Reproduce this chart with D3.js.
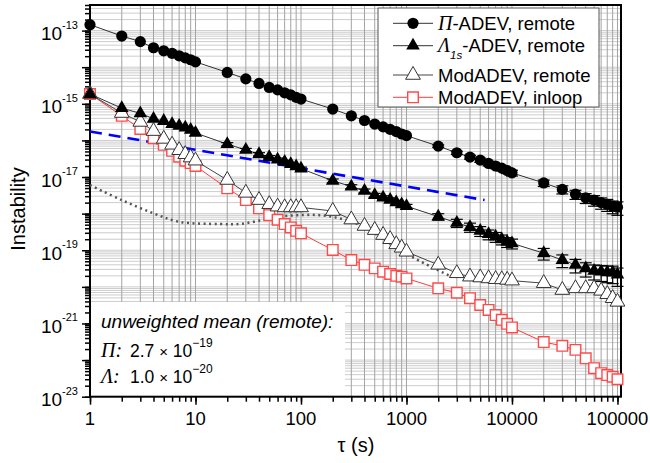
<!DOCTYPE html>
<html>
<head>
<meta charset="utf-8">
<script src="https://d3js.org/d3.v7.min.js"></script>
<style>
  body { margin: 0; background: #fff; }
  text { font-family: "Liberation Sans", Arial, sans-serif; }
</style>
</head>
<body>
<div id="chart"></div>
<script>
// averaging times (s)
const tau = [1,2,3,4,5,6,7,8,9,10,
  20,30,40,50,60,70,80,90,100,
  200,300,400,500,600,700,800,900,1000,
  2000,3000,4000,5000,6000,7000,8000,9000,10000,
  20000,30000,40000,50000,60000,70000,80000,90000,100000];

// Pi-ADEV, remote
const piAdev = [1.45e-13,7.1e-14,5.0e-14,3.4e-14,2.8e-14,2.4e-14,2.05e-14,1.8e-14,1.6e-14,1.4e-14,
  7.2e-15,4.8e-15,3.6e-15,2.8e-15,2.4e-15,2.0e-15,1.75e-15,1.5e-15,1.35e-15,
  7.2e-16,4.7e-16,3.5e-16,2.8e-16,2.35e-16,2.0e-16,1.75e-16,1.5e-16,1.35e-16,
  7.0e-17,4.6e-17,3.5e-17,2.9e-17,2.35e-17,2.0e-17,1.75e-17,1.5e-17,1.3e-17,
  6.9e-18,4.6e-18,3.4e-18,2.7e-18,2.35e-18,2.0e-18,1.8e-18,1.6e-18,1.5e-18];
const piErr = [0,0,0,0,0,0,0,0,0,0,
  0,0,0,0,0,0,0,0,0,
  0,0,0,0,0,0,0,0,0,
  0.08,0.1,0.12,0.13,0.14,0.15,0.16,0.17,0.18,
  0.2,0.25,0.28,0.3,0.32,0.34,0.36,0.38,0.4];

// Lambda_1s-ADEV, remote
const lamAdev = [1.85e-15,7.6e-16,5.5e-16,3.9e-16,3.4e-16,2.8e-16,2.5e-16,2.25e-16,1.95e-16,1.6e-16,
  7.9e-17,5.5e-17,4.2e-17,3.5e-17,3.0e-17,2.6e-17,2.25e-17,1.95e-17,1.7e-17,
  7.9e-18,5.5e-18,4.2e-18,3.2e-18,2.75e-18,2.4e-18,2.05e-18,1.8e-18,1.6e-18,
  8.3e-19,5.6e-19,4.3e-19,3.4e-19,2.75e-19,2.35e-19,2.0e-19,1.7e-19,1.55e-19,
  8.3e-20,5.4e-20,4.0e-20,3.2e-20,2.75e-20,2.6e-20,2.5e-20,2.45e-20,2.15e-20];
const lamErr = [0,0,0,0,0,0,0,0,0,0,
  0.1,0.1,0.1,0.1,0.1,0.1,0.1,0.1,0.1,
  0.12,0.12,0.12,0.12,0.12,0.12,0.12,0.12,0.12,
  0.2,0.25,0.28,0.3,0.3,0.3,0.3,0.3,0.3,
  0.35,0.38,0.4,0.42,0.44,0.46,0.48,0.5,0.52];

// ModADEV, remote
const modRemote = [1.85e-15,5.6e-16,3.2e-16,1.8e-16,1.1e-16,7.6e-17,5.4e-17,4.2e-17,3.4e-17,2.8e-17,
  8.3e-18,3.7e-18,2.35e-18,1.8e-18,1.55e-18,1.48e-18,1.48e-18,1.48e-18,1.48e-18,
  1.18e-18,6.9e-19,4.6e-19,3.55e-19,2.6e-19,2.0e-19,1.45e-19,1.17e-19,9.1e-20,
  4.0e-20,2.35e-20,1.9e-20,1.8e-20,1.7e-20,1.62e-20,1.6e-20,1.55e-20,1.48e-20,
  1.26e-20,8.2e-21,9.1e-21,9.1e-21,9.1e-21,7.8e-21,6.3e-21,4.9e-21,3.9e-21];

// ModADEV, inloop
const modInloop = [1.85e-15,4.7e-16,2.05e-16,1.15e-16,7.6e-17,5.2e-17,3.6e-17,2.8e-17,2.4e-17,2.0e-17,
  4.9e-18,2.35e-18,1.4e-18,9.1e-19,6.8e-19,5.2e-19,4.2e-19,3.4e-19,2.9e-19,
  1.02e-19,5.4e-20,4.0e-20,3.2e-20,2.6e-20,2.25e-20,2.0e-20,1.9e-20,1.7e-20,
  9.1e-21,6.9e-21,4.9e-21,3.2e-21,2.35e-21,1.7e-21,1.26e-21,9.8e-22,7.8e-22,
  3.1e-22,2.45e-22,1.9e-22,1.12e-22,6.0e-23,4.4e-23,3.9e-23,3.5e-23,3.0e-23];

// dotted grey curve
const dotTau = [1,2,4,7,17,26,41,63,97,150,233,362,560,860,1330,2700];
const dotVal = [6.0e-18,2.35e-18,1.02e-18,6.0e-19,5.2e-19,5.2e-19,6.5e-19,8.3e-19,9.1e-19,9.1e-19,
  7.4e-19,4.9e-19,2.35e-19,1.02e-19,5.1e-20,1.86e-20];

// blue dashed line
const blueTau = [1, 5500];
const blueVal = [1.75e-16, 2.35e-18];

const xLabels = [1, 10, 100, 1000, 10000, 100000];
const yLabelExp = [-13, -15, -17, -19, -21, -23];

const width = 650, height = 463;
const svg = d3.select("#chart").append("svg")
  .attr("width", width).attr("height", height)
  .style("background", "#fff");

const x = d3.scaleLog().domain([1, 1.08e5]).range([90, 621]);
const y = d3.scaleLog().domain([1e-23, 5e-13]).range([396.7, 5]);

// tick positions
let xMinor = [], yMinor = [], yMajor = [];
for (let d = 0; d <= 4; d++) for (let k = 1; k <= 9; k++) xMinor.push(k * Math.pow(10, d));
xMinor.push(1e5);
for (let d = -23; d <= -13; d++) {
  yMajor.push(Math.pow(10, d));
  for (let k = 1; k <= 9; k++) { const v = k * Math.pow(10, d); if (v <= 5e-13) yMinor.push(v); }
}

// grid
svg.append("g").selectAll("line").data(yMinor).join("line")
  .attr("x1", 90).attr("x2", 621)
  .attr("y1", d => y(d)).attr("y2", d => y(d))
  .attr("stroke", "#cdcdcd").attr("stroke-width", 1);
svg.append("g").selectAll("line").data(xMinor).join("line")
  .attr("y1", 5).attr("y2", 396.7)
  .attr("x1", d => x(d)).attr("x2", d => x(d))
  .attr("stroke", "#a3a3a3").attr("stroke-width", 1);

// stats box background
svg.append("rect").attr("x", 91).attr("y", 302).attr("width", 254).attr("height", 94).attr("fill", "#fff");

// axes
const yAxMin = svg.append("g").attr("transform", "translate(90,0)")
  .call(d3.axisLeft(y).tickValues(yMinor).tickSize(5).tickSizeOuter(0).tickFormat(""));
const yAxMaj = svg.append("g").attr("transform", "translate(90,0)")
  .call(d3.axisLeft(y).tickValues(yMajor).tickSize(8).tickSizeOuter(0).tickFormat(""));
const xAxMin = svg.append("g").attr("transform", "translate(0,396.7)")
  .call(d3.axisBottom(x).tickValues(xMinor).tickSize(5).tickSizeOuter(0).tickFormat(""));
const xAxMaj = svg.append("g").attr("transform", "translate(0,396.7)")
  .call(d3.axisBottom(x).tickValues(xLabels).tickSize(8).tickSizeOuter(0).tickFormat(""));
[yAxMin, yAxMaj, xAxMin, xAxMaj].forEach(g => {
  g.select(".domain").remove();
  g.selectAll(".tick line").attr("stroke", "#000").attr("stroke-width", 1.5);
});

// tick labels
svg.append("g").selectAll("text").data(xLabels).join("text")
  .attr("x", d => x(d)).attr("y", 425)
  .attr("text-anchor", "middle").attr("font-size", 18.5)
  .text(d => d);
const yl = svg.append("g").selectAll("text").data(yLabelExp).join("text")
  .attr("x", 78).attr("y", d => y(Math.pow(10, d)) + 9.5)
  .attr("text-anchor", "end").attr("font-size", 19);
yl.append("tspan").text("10");
yl.append("tspan").attr("dy", -11.5).attr("font-size", 11).text(d => String(d));

// frame
svg.append("rect").attr("x", 90).attr("y", 5).attr("width", 531).attr("height", 391.7)
  .attr("fill", "none").attr("stroke", "#000").attr("stroke-width", 2);

// axis titles
svg.append("text").attr("transform", "translate(25,209) rotate(-90)")
  .attr("text-anchor", "middle").attr("font-size", 20).text("Instability");
svg.append("text").attr("x", 356).attr("y", 452)
  .attr("text-anchor", "middle").attr("font-size", 20).text("τ (s)");

// reference curves
const line = d3.line().x(d => x(d[0])).y(d => y(d[1]));
svg.append("path")
  .datum(dotTau.map((t, i) => [t, dotVal[i]]))
  .attr("d", line.curve(d3.curveCatmullRom))
  .attr("fill", "none").attr("stroke", "#555").attr("stroke-width", 2.5)
  .attr("stroke-dasharray", "2,3.5");
svg.append("path")
  .datum(blueTau.map((t, i) => [t, blueVal[i]]))
  .attr("d", d3.line().x(d => x(d[0])).y(d => y(d[1])))
  .attr("fill", "none").attr("stroke", "#0000ff").attr("stroke-width", 2.6)
  .attr("stroke-dasharray", "12,7");

const plain = d3.line().x(d => x(d[0])).y(d => y(d[1]));
const series = [
  { vals: modInloop, color: "#ff3b3b" },
  { vals: modRemote, color: "#444" },
  { vals: lamAdev, color: "#333", err: lamErr },
  { vals: piAdev, color: "#333", err: piErr }
];
series.forEach(s => {
  svg.append("path").datum(tau.map((t, i) => [t, s.vals[i]]))
    .attr("d", plain).attr("fill", "none")
    .attr("stroke", s.color).attr("stroke-width", 1);
});

// error bars
[{ vals: piAdev, err: piErr }, { vals: lamAdev, err: lamErr }].forEach(s => {
  const pts = tau.map((t, i) => ({ t, v: s.vals[i], e: s.err[i] })).filter(d => d.e > 0);
  const g = svg.append("g").attr("stroke", "#000").attr("stroke-width", 1.2);
  pts.forEach(d => {
    const lo = y(d.v * (1 - d.e)), hi = y(d.v * (1 + d.e)), cx = x(d.t);
    g.append("line").attr("x1", cx).attr("x2", cx).attr("y1", lo).attr("y2", hi);
    g.append("line").attr("x1", cx - 6).attr("x2", cx + 6).attr("y1", lo).attr("y2", lo);
    g.append("line").attr("x1", cx - 6).attr("x2", cx + 6).attr("y1", hi).attr("y2", hi);
  });
});

// markers
const sq = d3.symbol().type(d3.symbolSquare).size(112);
const triOpen = d3.symbol().type(d3.symbolTriangle).size(95);
const triFill = d3.symbol().type(d3.symbolTriangle).size(80);

svg.append("g").selectAll("path").data(tau).join("path")
  .attr("transform", (d, i) => `translate(${x(d)},${y(modInloop[i])})`)
  .attr("d", sq).attr("fill", "#fff").attr("stroke", "#ff4a4a").attr("stroke-width", 1.4);
svg.append("g").selectAll("path").data(tau).join("path")
  .attr("transform", (d, i) => `translate(${x(d)},${y(modRemote[i])})`)
  .attr("d", triOpen).attr("fill", "#fff").attr("stroke", "#333").attr("stroke-width", 1);
svg.append("g").selectAll("path").data(tau).join("path")
  .attr("transform", (d, i) => `translate(${x(d)},${y(lamAdev[i])})`)
  .attr("d", triFill).attr("fill", "#000");
svg.append("g").selectAll("circle").data(tau).join("circle")
  .attr("cx", d => x(d)).attr("cy", (d, i) => y(piAdev[i]))
  .attr("r", 5.6).attr("fill", "#000");

// stats text
svg.append("text").attr("x", 101).attr("y", 328).attr("font-size", 19)
  .attr("font-style", "italic").text("unweighted mean (remote):");
const statRows = [
  { sym: "Π", mant: "2.7", exp: "−19", yb: 357 },
  { sym: "Λ", mant: "1.0", exp: "−20", yb: 383 }
];
statRows.forEach(r => {
  const t = svg.append("text").attr("x", 101).attr("y", r.yb).attr("font-size", 17.5);
  t.append("tspan").attr("font-family", "Liberation Serif, serif").attr("font-style", "italic")
    .attr("font-size", 20).text(r.sym + ":");
  t.append("tspan").attr("x", 130).text(r.mant + " ");
  t.append("tspan").attr("font-size", 15).text("×");
  t.append("tspan").text(" 10");
  t.append("tspan").attr("dy", -10).attr("font-size", 12).text(r.exp);
});

// legend
const lg = svg.append("g");
lg.append("rect").attr("x", 378).attr("y", 8).attr("width", 221).attr("height", 99)
  .attr("fill", "#fff").attr("stroke", "#555").attr("stroke-width", 1);
const rows = [23.3, 45.7, 75, 97.3];
const rowColors = ["#333", "#333", "#444", "#ff3b3b"];
rows.forEach((ry, i) => {
  lg.append("line").attr("x1", 393).attr("x2", 433).attr("y1", ry).attr("y2", ry)
    .attr("stroke", rowColors[i]).attr("stroke-width", 1);
});
lg.append("circle").attr("cx", 413).attr("cy", rows[0]).attr("r", 5.6).attr("fill", "#000");
lg.append("path").attr("transform", `translate(413,${rows[1]})`).attr("d", triFill).attr("fill", "#000");
lg.append("path").attr("transform", `translate(413,${rows[2]})`).attr("d", triOpen)
  .attr("fill", "#fff").attr("stroke", "#333");
lg.append("path").attr("transform", `translate(413,${rows[3]})`).attr("d", sq)
  .attr("fill", "#fff").attr("stroke", "#ff4a4a").attr("stroke-width", 1.4);

const fs = 18.5;
const l1 = lg.append("text").attr("x", 438).attr("y", rows[0] + 6.5).attr("font-size", fs);
l1.append("tspan").attr("font-family", "Liberation Serif, serif").attr("font-style", "italic").attr("font-size", 20).text("Π");
l1.append("tspan").text("-ADEV, remote");
const l2 = lg.append("text").attr("x", 438).attr("y", rows[1] + 6.2).attr("font-size", fs);
l2.append("tspan").attr("font-family", "Liberation Serif, serif").attr("font-style", "italic").attr("font-size", 20).text("Λ");
l2.append("tspan").attr("dy", 7).attr("font-size", 11.5).attr("font-style", "italic").text("1s");
l2.append("tspan").attr("dy", -7).text("-ADEV, remote");
lg.append("text").attr("x", 438).attr("y", rows[2] + 6.7).attr("font-size", fs).text("ModADEV, remote");
lg.append("text").attr("x", 438).attr("y", rows[3] + 6.7).attr("font-size", fs).text("ModADEV, inloop");
</script>
</body>
</html>
